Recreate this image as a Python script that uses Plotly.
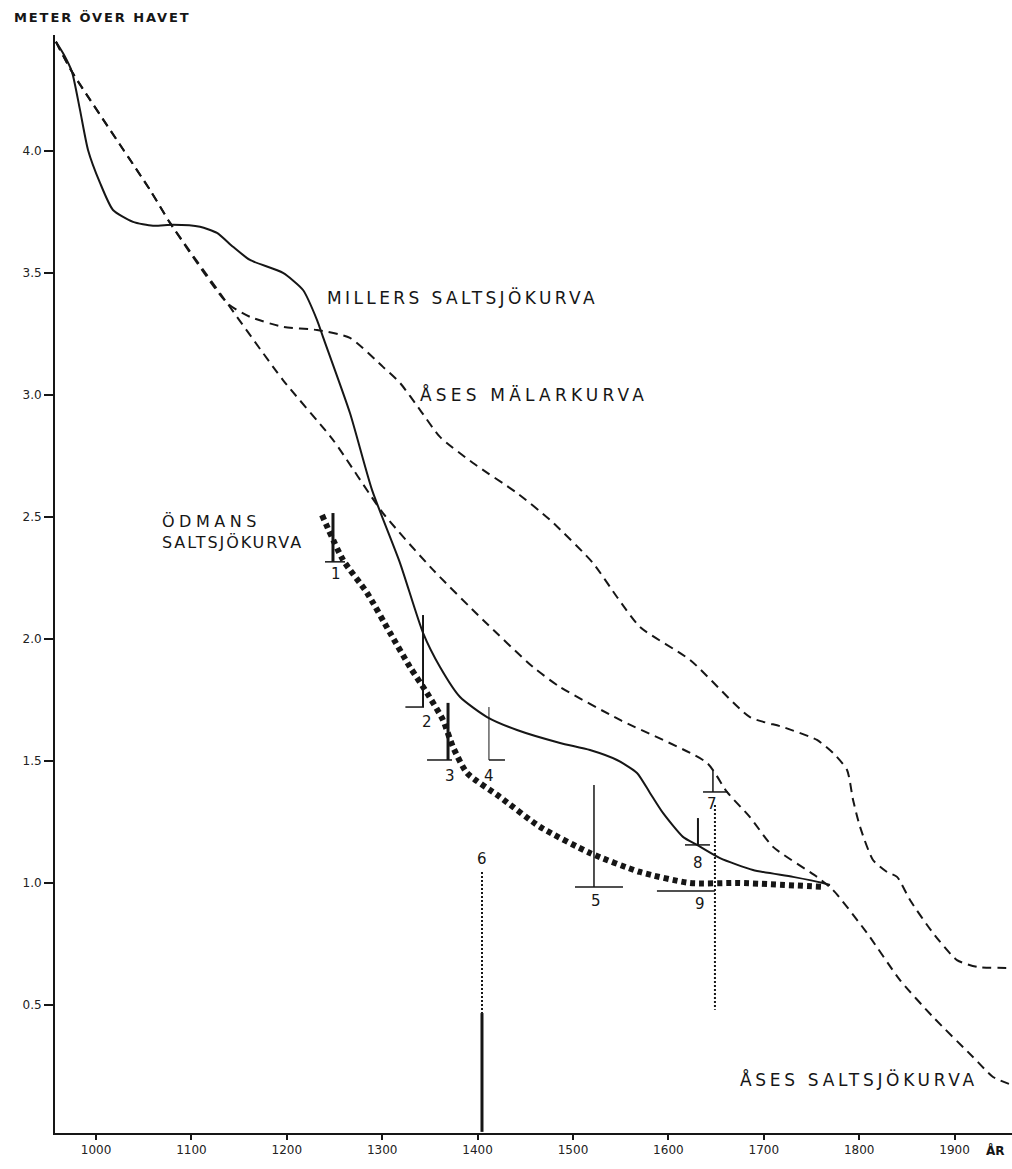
import plotly.graph_objects as go

# ---------------- data (years, metres above sea level) ----------------
millers_year = [958, 966.5, 974.8, 983.2, 991.6, 1004.2, 1017.8, 1038.8, 1059.7, 1080.7, 1109.0,
                1126.8, 1143.6, 1161.4, 1196.0, 1217.0, 1231.7, 1237.9, 1266.2, 1289.3, 1318.7,
                1342.8, 1360.6, 1381.6, 1409.9, 1441.3, 1486.4, 1517.8, 1546.1, 1567.1, 1580.7,
                1594.3, 1615.3, 1630.0, 1654.1, 1688.7, 1730.6, 1762.1, 1769.4]
millers_m = [4.447, 4.393, 4.324, 4.168, 4.004, 3.869, 3.758, 3.709, 3.693, 3.697, 3.689,
             3.664, 3.607, 3.553, 3.500, 3.430, 3.307, 3.238, 2.926, 2.611, 2.311,
             2.025, 1.885, 1.762, 1.680, 1.627, 1.574, 1.545, 1.504, 1.451, 1.369,
             1.287, 1.189, 1.156, 1.102, 1.053, 1.025, 1.000, 0.992]

ases_salt_year = [958, 974.8, 1056.6, 1077.6, 1137.3, 1196.0, 1248.4, 1300.8, 1353.3, 1405.7,
                  1458.1, 1486.4, 1549.3, 1640.5, 1661.4, 1685.5, 1709.7, 1755.8, 1772.6,
                  1808.2, 1842.8, 1877.4, 1919.3, 1940.3, 1960.2]
ases_salt_m = [4.447, 4.324, 3.840, 3.705, 3.377, 3.061, 2.816, 2.516, 2.283, 2.078,
               1.885, 1.803, 1.668, 1.492, 1.373, 1.270, 1.148, 1.025, 0.971,
               0.795, 0.602, 0.451, 0.287, 0.205, 0.172]

ases_malar_year = [958, 974.8, 1056.6, 1077.6, 1137.3, 1161.4, 1196.0, 1231.7, 1266.2, 1300.8,
                   1318.7, 1339.6, 1360.6, 1395.2, 1441.3, 1475.9, 1521.0, 1546.1, 1570.2,
                   1622.7, 1685.5, 1720.1, 1755.8, 1772.6, 1787.3, 1793.6, 1800.9, 1814.5,
                   1829.2, 1839.7, 1853.3, 1877.4, 1902.5, 1923.5, 1958.1]
ases_malar_m = [4.447, 4.324, 3.840, 3.705, 3.377, 3.320, 3.279, 3.266, 3.234, 3.115,
                3.049, 2.939, 2.828, 2.721, 2.598, 2.488, 2.311, 2.172, 2.049,
                1.914, 1.680, 1.639, 1.586, 1.533, 1.463, 1.340, 1.230, 1.094,
                1.045, 1.025, 0.930, 0.795, 0.684, 0.656, 0.652]

odman_year = [1236.9, 1258.9, 1284.1, 1308.2, 1329.1, 1346.9, 1363.7, 1374.2, 1388.9, 1423.5,
              1465.4, 1517.8, 1570.2, 1622.6, 1675.0, 1762.1]
odman_m = [2.508, 2.324, 2.189, 2.025, 1.885, 1.779, 1.668, 1.557, 1.451, 1.352,
           1.230, 1.123, 1.045, 1.000, 1.000, 0.984]

# numbered observation marks
mark_ids = ["1", "2", "3", "4", "5", "7", "8"]
mark_year = [1248.4, 1342.8, 1369.0, 1411.9, 1522.0, 1646.7, 1631.0]
mark_top = [2.516, 2.098, 1.738, 1.721, 1.402, 1.463, 1.266]
mark_base = [2.316, 1.721, 1.504, 1.504, 0.984, 1.373, 1.156]
bar_from = [1240.0, 1324.3, 1347.0, 1411.9, 1502.1, 1636.3, 1617.4]
bar_to = [1261.0, 1343.8, 1373.2, 1428.7, 1552.4, 1662.5, 1643.6]
label_year = [1251.6, 1347.0, 1371.1, 1411.9, 1524.1, 1645.6, 1631.0]
label_m = [2.265, 1.660, 1.440, 1.440, 0.925, 1.325, 1.083]
mark_width = [3, 2, 3, 1, 1.5, 1.5, 2]

# mark 6 and 9
m6_year, m6_dot_top, m6_dot_bottom, m6_solid_bottom = 1404.6, 1.045, 0.467, -0.02
m6_label_m = 1.10
m9_year_from, m9_year_to, m9_level = 1588.0, 1648.8, 0.967
m9_dot_top, m9_dot_bottom = 1.32, 0.48
m9_label_year, m9_label_m = 1633.1, 0.915

x_ticks = [1000, 1100, 1200, 1300, 1400, 1500, 1600, 1700, 1800, 1900]
y_ticks = [0.5, 1.0, 1.5, 2.0, 2.5, 3.0, 3.5, 4.0]

INK = "#161616"
FONT = "DejaVu Sans"

fig = go.Figure()

fig.add_trace(go.Scatter(x=ases_malar_year, y=ases_malar_m, mode="lines",
                         line=dict(color=INK, width=2, dash="9px,6px", shape="spline", smoothing=0.6)))
fig.add_trace(go.Scatter(x=ases_salt_year, y=ases_salt_m, mode="lines",
                         line=dict(color=INK, width=2, dash="9px,6px", shape="spline", smoothing=0.6)))
fig.add_trace(go.Scatter(x=millers_year, y=millers_m, mode="lines",
                         line=dict(color=INK, width=2, shape="spline", smoothing=0.6)))
fig.add_trace(go.Scatter(x=odman_year, y=odman_m, mode="lines",
                         line=dict(color=INK, width=6, dash="5px,4px", shape="spline", smoothing=0.6)))

# marks
for i, mid in enumerate(mark_ids):
    fig.add_trace(go.Scatter(x=[mark_year[i], mark_year[i]], y=[mark_top[i], mark_base[i]], mode="lines",
                             line=dict(color=INK, width=mark_width[i])))
    fig.add_trace(go.Scatter(x=[bar_from[i], bar_to[i]], y=[mark_base[i], mark_base[i]], mode="lines",
                             line=dict(color=INK, width=1.5)))
    fig.add_annotation(x=label_year[i], y=label_m[i], text=mid, showarrow=False,
                       font=dict(family=FONT, size=15, color=INK), xanchor="center", yanchor="middle")

fig.add_trace(go.Scatter(x=[m6_year, m6_year], y=[m6_dot_top, m6_dot_bottom], mode="lines",
                         line=dict(color=INK, width=2, dash="2px,2px")))
fig.add_trace(go.Scatter(x=[m6_year, m6_year], y=[m6_dot_bottom, m6_solid_bottom], mode="lines",
                         line=dict(color=INK, width=3)))
fig.add_annotation(x=m6_year, y=m6_label_m, text="6", showarrow=False,
                   font=dict(family=FONT, size=15, color=INK))

fig.add_trace(go.Scatter(x=[m9_year_from, m9_year_to], y=[m9_level, m9_level], mode="lines",
                         line=dict(color=INK, width=1.5)))
fig.add_trace(go.Scatter(x=[m9_year_to, m9_year_to], y=[m9_dot_top, m9_dot_bottom], mode="lines",
                         line=dict(color=INK, width=2, dash="2px,2px")))
fig.add_annotation(x=m9_label_year, y=m9_label_m, text="9", showarrow=False,
                   font=dict(family=FONT, size=15, color=INK))

# curve labels
def spaced(t, s=2):
    return f'<span style="letter-spacing:{s}px">{t}</span>'

fig.add_annotation(x=1240.0, y=3.398, text=spaced("MILLERS SALTSJÖKURVA", 3.4), showarrow=False,
                   xanchor="left", yanchor="middle", font=dict(family=FONT, size=17, color=INK))
fig.add_annotation(x=1337.5, y=3.0, text=spaced("ÅSES MÄLARKURVA", 4.2), showarrow=False,
                   xanchor="left", yanchor="middle", font=dict(family=FONT, size=17, color=INK))
fig.add_annotation(x=1673.0, y=0.193, text=spaced("ÅSES SALTSJÖKURVA", 3.7), showarrow=False,
                   xanchor="left", yanchor="middle", font=dict(family=FONT, size=17, color=INK))
fig.add_annotation(x=1067.1, y=2.437, text=spaced("ÖDMANS", 4.5) + "<br>" + spaced("SALTSJÖKURVA", 1.9),
                   showarrow=False, xanchor="left", yanchor="middle", align="left",
                   font=dict(family=FONT, size=16, color=INK))

fig.add_annotation(xref="paper", yref="paper", x=-0.045, y=1.0155,
                   text="<b>" + spaced("METER ÖVER HAVET", 1.9) + "</b>",
                   showarrow=False, xanchor="left", yanchor="middle",
                   font=dict(family=FONT, size=13, color=INK))
fig.add_annotation(xref="x", yref="paper", x=1931.0, y=-0.0155, text="<b>ÅR</b>",
                   showarrow=False, xanchor="left", yanchor="middle",
                   font=dict(family=FONT, size=12, color=INK))

fig.update_layout(
    width=1012, height=1169,
    margin=dict(l=55, r=0, t=35, b=36),
    paper_bgcolor="white", plot_bgcolor="white",
    showlegend=False, hovermode=False,
    font=dict(family=FONT, color=INK),
)
fig.update_xaxes(range=[957.0, 1960.2], tickvals=x_ticks, ticktext=[str(v) for v in x_ticks],
                 showgrid=False, zeroline=False, showline=True, linecolor=INK, linewidth=2,
                 ticks="outside", ticklen=5, tickwidth=1.5, tickcolor=INK,
                 tickfont=dict(family=FONT, size=12, color="#222"))
fig.update_yaxes(range=[-0.0246, 4.475], tickvals=y_ticks, ticktext=[f"{v:.1f}" for v in y_ticks],
                 showgrid=False, zeroline=False, showline=True, linecolor=INK, linewidth=2,
                 ticks="outside", ticklen=9, tickwidth=1.5, tickcolor=INK,
                 tickfont=dict(family=FONT, size=12, color="#222"))

# let the figure fill the window exactly (no default 8px page margin)
fig.write_html("out.html", config={"displayModeBar": False},
               post_script="document.body.style.margin='0';document.body.style.overflow='hidden';")
